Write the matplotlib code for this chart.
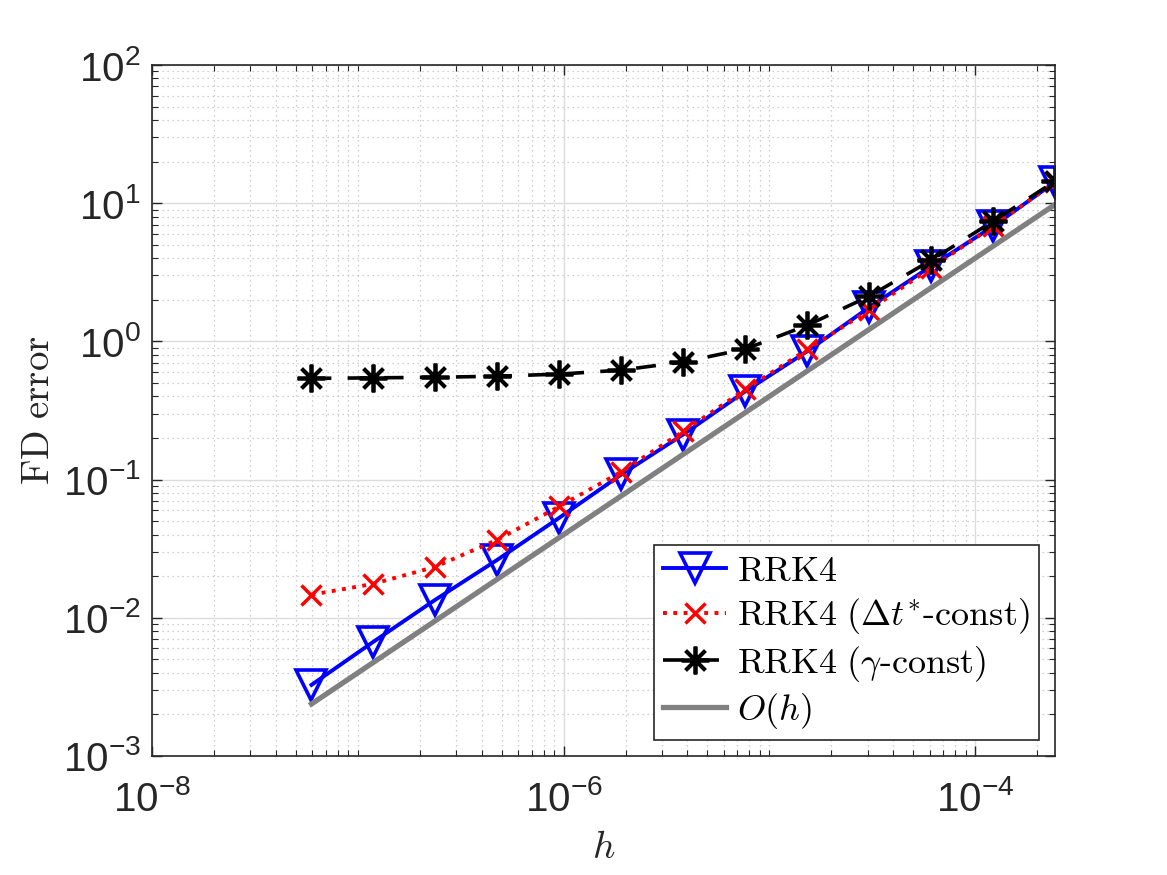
import numpy as np
import matplotlib
matplotlib.use('Agg')
import matplotlib.pyplot as plt
from matplotlib.ticker import LogLocator, NullFormatter

plt.rcParams['font.family'] = ['Liberation Sans', 'DejaVu Sans']
plt.rcParams['mathtext.fontset'] = 'cm'

# step sizes h = 2^-24 ... 2^-12
h = [5.96e-8, 1.19e-7, 2.38e-7, 4.77e-7, 9.54e-7, 1.91e-6, 3.81e-6,
     7.63e-6, 1.53e-5, 3.05e-5, 6.10e-5, 1.22e-4, 2.44e-4]
err_rrk4 = [0.00327, 0.0067, 0.0135, 0.0263, 0.053, 0.109, 0.212,
            0.435, 0.85, 1.76, 3.5, 6.8, 14.2]
err_dt_const = [0.0147, 0.0176, 0.0234, 0.0367, 0.064, 0.114, 0.223,
                0.449, 0.875, 1.68, 3.4, 6.8, 14.2]
err_gamma_const = [0.54, 0.545, 0.55, 0.56, 0.58, 0.62, 0.71,
                   0.88, 1.31, 2.12, 3.86, 7.4, 14.4]
# reference slope line, two ends
oh_h = [5.96e-8, 2.44e-4]
oh_err = [0.00238, 9.77]

labels = [r'$\mathrm{RRK4}$',
          r'$\mathrm{RRK4\ (}\Delta t^{*}\mathrm{\text{-}const)}$',
          r'$\mathrm{RRK4\ (}\gamma\mathrm{\text{-}const)}$',
          r'$O(h)$']

fig = plt.figure(figsize=(11.67, 8.75), dpi=100)
ax = fig.add_axes([0.1302, 0.136, 0.904 - 0.1302, 0.9257 - 0.136])

ax.loglog(h, err_rrk4, '-', color='b', lw=2.8, marker='v', ms=21,
          mfc='none', mew=2.6, label=labels[0])
ax.loglog(h, err_dt_const, ':', color='r', lw=2.8, marker='x', ms=15,
          mew=2.5, label=labels[1])
ax.loglog(h, err_gamma_const, color='k', lw=2.6, ls=(0, (5.5, 4.5)),
          marker=(8, 2, 0), ms=20, mew=2.7, label=labels[2])
ax.loglog(oh_h, oh_err, '-', color=(0.5, 0.5, 0.5), lw=3.8, label=labels[3])

ax.set_xlim(1e-8, 2**-12)
ax.set_ylim(1e-3, 1e2)
ax.set_xticks([1e-8, 1e-6, 1e-4])
ax.xaxis.set_minor_locator(LogLocator(base=10, subs=np.arange(1, 10), numticks=100))
ax.yaxis.set_minor_locator(LogLocator(base=10, subs=np.arange(1, 10), numticks=100))
ax.xaxis.set_minor_formatter(NullFormatter())
ax.yaxis.set_minor_formatter(NullFormatter())

ax.grid(True, which='major', color='#dcdcdc', lw=1.0, ls='-')
ax.grid(True, which='minor', color='#c0c0c0', lw=0.9, ls=(0, (1, 3)))
ax.set_axisbelow(True)

ax.tick_params(which='both', direction='in', top=True, right=True,
               colors='#262626', labelsize=29)
ax.tick_params(which='major', length=7, width=1.0)
ax.tick_params(which='minor', length=4, width=0.8)
ax.tick_params(axis='y', which='major', pad=8)
ax.tick_params(axis='x', which='major', pad=17)
for s in ax.spines.values():
    s.set_color('#262626')
    s.set_linewidth(1.2)

ax.set_xlabel(r'$h$', fontsize=28, color='#262626', labelpad=8)
ax.set_ylabel(r'$\mathrm{FD\ error}$', fontsize=28, color='#262626', labelpad=4)

leg = ax.legend(loc='lower right', fontsize=26, handlelength=1.75,
                borderaxespad=0.45, fancybox=False, edgecolor='#262626',
                framealpha=1.0, labelspacing=0.2, handletextpad=0.3,
                borderpad=0.25)
leg.get_frame().set_linewidth(1.2)

fig.savefig('out.png', dpi=100)
